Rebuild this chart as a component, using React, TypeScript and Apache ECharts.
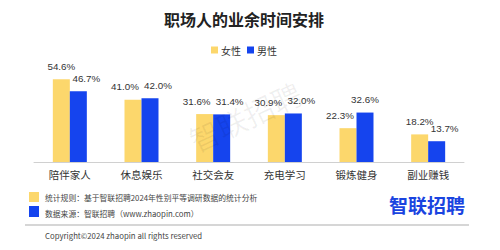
import React, { useEffect, useRef } from "react";
import * as echarts from "echarts";

const categories = ["陪伴家人", "休息娱乐", "社交会友", "充电学习", "锻炼健身", "副业赚钱"];
const female = [54.6, 41.0, 31.6, 30.9, 22.3, 18.2];
const male = [46.7, 42.0, 31.4, 32.0, 32.6, 13.7];
const seriesNames = ["女性", "男性"];
const titleText = "职场人的业余时间安排";
const note1 = "统计规则：基于智联招聘2024年性别平等调研数据的统计分析";
const note2 = "数据来源：智联招聘（www.zhaopin.com）";
const copyright = "Copyright©2024 zhaopin all rights reserved";
const logoText = "智联招聘";

const YELLOW = "#FCD76C";
const BLUE = "#1544EE";
const FONT = "'Noto Sans CJK SC', 'Noto Sans', sans-serif";
const NUM_FONT = "'Liberation Sans', Arial, sans-serif";

export default function App() {
  const ref = useRef<HTMLDivElement>(null);
  useEffect(() => {
    if (!ref.current) return;
    const chart = echarts.init(ref.current, null, { renderer: "svg" });
    const label = {
      show: true,
      position: "top",
      distance: 8,
      fontSize: 9.8,
      color: "#333",
      fontFamily: NUM_FONT,
      formatter: (p: any) => Number(p.value).toFixed(1) + "%",
    };
    // push a label sideways when it is not clearly above its neighbour's
    const withShift = (own: number[], other: number[], dir: number) =>
      own.map((v, i) => ({
        value: v,
        label: { offset: [v < other[i] + 2 ? dir * 8 : 0, 0] },
      }));
    chart.setOption({
      animation: false,
      backgroundColor: "#fff",
      textStyle: { fontFamily: FONT },
      title: {
        text: titleText,
        left: 159,
        top: 6,
        textStyle: { fontSize: 16, fontWeight: "bold", color: "#222", fontFamily: FONT },
      },
      legend: {
        data: seriesNames,
        left: 206,
        top: 40,
        icon: "rect",
        itemWidth: 7,
        itemHeight: 7,
        itemGap: 6,
        textStyle: { fontSize: 10, color: "#333", fontFamily: FONT, padding: [0, 0, 0, -2] },
      },
      grid: { left: 34, right: 36, top: 71, bottom: 88, containLabel: false },
      xAxis: {
        type: "category",
        data: categories,
        axisLine: { lineStyle: { color: "#d0d0d0" } },
        axisTick: { show: false },
        axisLabel: { fontSize: 10.5, color: "#333", margin: 7, fontFamily: FONT },
      },
      yAxis: {
        type: "value",
        min: 0,
        max: 60,
        show: false,
        splitLine: { show: false },
      },
      series: [
        {
          name: seriesNames[0],
          type: "bar",
          data: withShift(female, male, -1),
          barWidth: 17,
          barGap: "0%",
          itemStyle: { color: YELLOW },
          label,
        },
        {
          name: seriesNames[1],
          type: "bar",
          data: withShift(male, female, 1),
          barWidth: 17,
          barGap: "0%",
          itemStyle: { color: BLUE },
          label,
        },
      ],
      graphic: [
        {
          type: "text",
          x: 245,
          y: 116,
          rotation: (25 * Math.PI) / 180,
          z: 100,
          style: {
            text: logoText,
            fontSize: 30,
            fontFamily: FONT,
            fill: "rgba(0,0,0,0.06)",
            align: "center",
            verticalAlign: "middle",
          },
        },
        { type: "rect", shape: { x: 29, y: 192, width: 10, height: 10 }, style: { fill: YELLOW } },
        { type: "rect", shape: { x: 29, y: 206, width: 10, height: 11 }, style: { fill: BLUE } },
        {
          type: "text",
          x: 45,
          y: 197,
          style: { text: note1, fontSize: 7.8, fill: "#444", fontFamily: FONT, verticalAlign: "middle" },
        },
        {
          type: "text",
          x: 45,
          y: 213,
          style: { text: note2, fontSize: 7.8, fill: "#444", fontFamily: FONT, verticalAlign: "middle" },
        },
        {
          type: "text",
          x: 427,
          y: 204,
          style: {
            text: logoText,
            fontSize: 19,
            fontWeight: "bold",
            fill: "#1A44E0",
            fontFamily: FONT,
            align: "center",
            verticalAlign: "middle",
          },
        },
        {
          type: "line",
          shape: { x1: 25, y1: 225, x2: 469, y2: 225 },
          style: { stroke: "#c8c8c8", lineWidth: 1.5 },
        },
        {
          type: "text",
          x: 45,
          y: 235,
          style: { text: copyright, fontSize: 7.8, fill: "#444", fontFamily: FONT, verticalAlign: "middle" },
        },
      ],
    });
    return () => chart.dispose();
  }, []);
  return <div ref={ref} style={{ width: 500, height: 250, position: "fixed", left: 0, top: 0 }} />;
}
